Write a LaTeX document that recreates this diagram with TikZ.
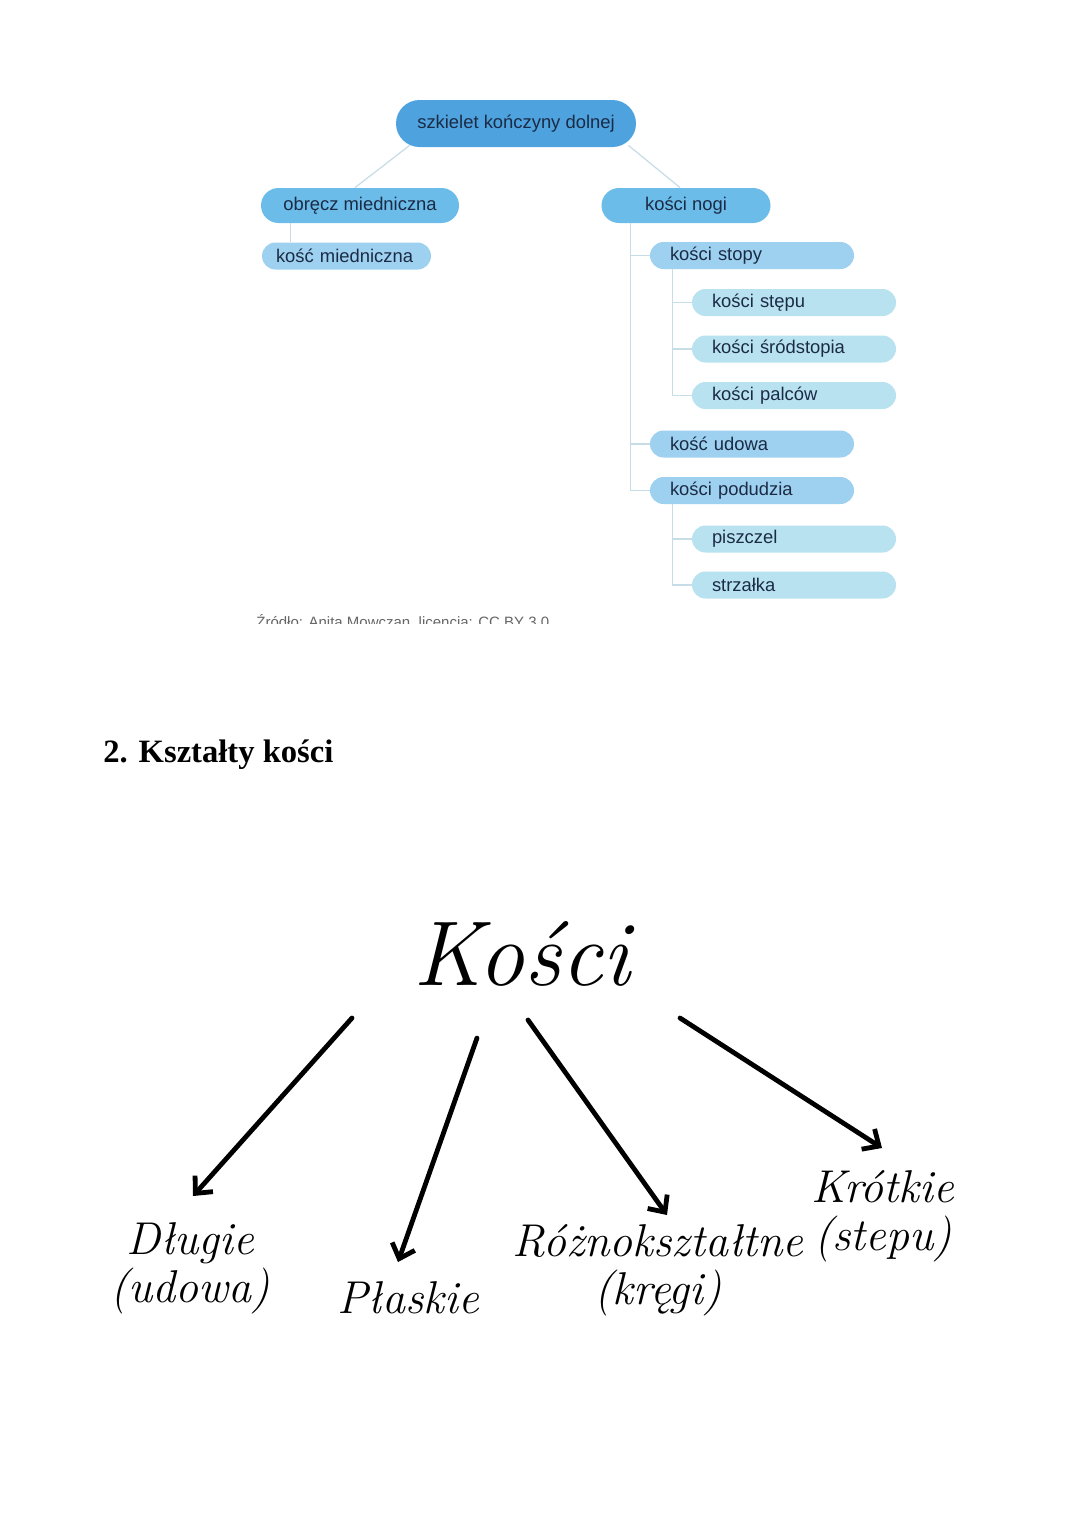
\documentclass[tikz,border=0pt]{standalone}
\usepackage{fontspec}
\newfontfamily\treefont{Liberation Sans}
\newfontfamily\headfont{Liberation Serif}
\usetikzlibrary{arrows.meta,calc}

\definecolor{rootblue}{HTML}{4EA2DE}
\definecolor{mainblue}{HTML}{6CBCEA}
\definecolor{subblue}{HTML}{9ED1EF}
\definecolor{leafblue}{HTML}{B8E2F0}
\definecolor{navytext}{HTML}{1B2B45}
\definecolor{treeline}{HTML}{C6DCE7}

\begin{document}
\begin{tikzpicture}[
            x=0.5pt, y=-0.5pt,
            pill/.style={
                rectangle,
                draw=none,
                inner sep=0pt,
                text=navytext,
                font=\treefont\fontsize{9.2}{11}\selectfont
            },
            rootpill/.style={
                pill,
                fill=rootblue,
                minimum width=120pt,
                minimum height=23.5pt,
                rounded corners=11.75pt
            },
            mainpill/.style={
                pill,
                fill=mainblue,
                minimum height=17.5pt,
                rounded corners=8.75pt
            },
            subpill/.style={
                pill,
                fill=subblue,
                minimum height=13.5pt,
                rounded corners=6.75pt,
                inner xsep=10pt,
                text width=82pt,
                align=left
            },
            leafpill/.style={
                subpill,
                fill=leafblue
            },
            link/.style={draw=treeline, line width=0.6pt},
            hand/.style={font=\itshape\fontsize{23}{24}\selectfont, inner sep=0pt, align=center},
            arrow/.style={-{Straight Barb[length=6.5pt,width=12pt]}, line width=2.4pt, line cap=round}
        ]

        % Page
        \fill[white] (0,0) rectangle (1080,1527);
        \useasboundingbox (0,0) rectangle (1080,1527);

        % Tree: root and first level
        \node[rootpill] (root) at (516,123.5) {szkielet kończyny dolnej};
        \node[mainpill, minimum width=99pt] (obrecz) at (360,205.5) {obręcz miedniczna};
        \node[mainpill, minimum width=84.5pt] (nogi) at (686,205.5) {kości nogi};

        % Second level
        \node[subpill, inner xsep=7pt, text width=70.5pt] (miedn) at (346.5,256) {kość miedniczna};
        \node[subpill] (stopy) at (752,255.5) {kości stopy};
        \node[subpill] (udowa) at (752,444) {kość udowa};
        \node[subpill] (podudzie) at (752,490.5) {kości podudzia};

        % Third level
        \node[leafpill] (stepu) at (794,302.5) {kości stępu};
        \node[leafpill] (srodstopie) at (794,349) {kości śródstopia};
        \node[leafpill] (palce) at (794,395.5) {kości palców};
        \node[leafpill] (piszczel) at (794,539) {piszczel};
        \node[leafpill] (strzalka) at (794,585) {strzałka};

        % Tree links
        \draw[link] ($(root.south west)+(14,-2)$) -- ($(obrecz.north)+(-5,0)$);
        \draw[link] ($(root.south east)+(-8,-2)$) -- ($(nogi.north)+(-6,0)$);
        \draw[link] ($(obrecz.south west)+(30,0)$) -- ($(miedn.north west)+(29,0)$);
        \foreach \child in {stopy,udowa,podudzie}
            \draw[link] ($(nogi.south west)+(29,0)$) |- (\child.west);
        \foreach \child in {stepu,srodstopie,palce}
            \draw[link] ($(stopy.south west)+(23,0)$) |- (\child.west);
        \foreach \child in {piszczel,strzalka}
            \draw[link] ($(podudzie.south west)+(23,0)$) |- (\child.west);

        % Source line, cut off at the bottom
        \begin{scope}
            \clip (240,600) rectangle (560,623);
            \node[anchor=base west, inner sep=0pt, text=black!60, font=\treefont\fontsize{7.5}{9}\selectfont] (source) at (256,627) {Źródło: Anita Mowczan, licencja: CC BY 3.0};
        \end{scope}

        % Heading
        \node[anchor=base west, inner sep=0pt, font=\headfont\bfseries\fontsize{16.3}{19}\selectfont] (heading) at (103,762) {2. Kształty kości};

        % Shapes of bones
        \node[hand, anchor=base, font=\itshape\fontsize{46}{48}\selectfont] (kosci) at (522,985) {Kości};
        \node[hand, anchor=base] (dlugie) at (190,1302) {Długie\\(udowa)};
        \node[hand, anchor=base] (plaskie) at (408,1313) {Płaskie};
        \node[hand, anchor=base] (rozne) at (658,1304) {Różnokształtne\\(kręgi)};
        \node[hand, anchor=base] (krotkie) at (883,1250) {Krótkie\\(stepu)};

        % Arrow ends
        \coordinate (d1) at (352,1018);
        \coordinate (d2) at (193,1196);
        \coordinate (p1) at (477,1038);
        \coordinate (p2) at (398,1262);
        \coordinate (r1) at (528,1020);
        \coordinate (r2) at (667,1215);
        \coordinate (k1) at (680,1018);
        \coordinate (k2) at (882,1148);

        % Arrows
        \draw[arrow] (d1) -- (d2);
        \draw[arrow] (p1) -- (p2);
        \draw[arrow] (r1) -- (r2);
        \draw[arrow] (k1) -- (k2);

        \end{tikzpicture}
\end{document}
